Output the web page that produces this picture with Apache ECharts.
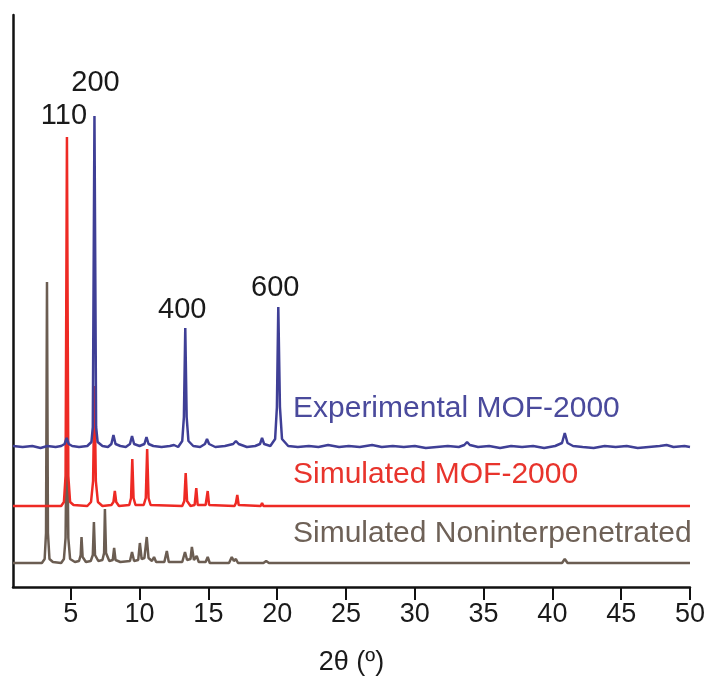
<!DOCTYPE html>
<html>
<head>
<meta charset="utf-8">
<script src="https://cdn.jsdelivr.net/npm/echarts@6/dist/echarts.min.js"></script>
<style>
  html, body { margin: 0; padding: 0; background: #ffffff; }
  #chart { width: 708px; height: 682px; }
</style>
</head>
<body>
<div id="chart"></div>
<script>
// Powder X-ray diffraction patterns, stacked with vertical offsets.
// Each pattern is a list of [2θ (°), intensity above its own baseline].

const xTicks = [5, 10, 15, 20, 25, 30, 35, 40, 45, 50];

const offsetExperimental = 140;
const offsetSimulated = 81;
const offsetNonInterpen = 24;

const experimental = [
  [0.8, 1], [1.5, 0], [2.2, 1], [2.8, -1], [3.3, 1], [3.9, 0], [4.3, 1],
  [4.55, 3], [4.7, 9], [4.85, 3], [5.1, 1], [5.6, 0], [6.2, 1],
  [6.5, 5], [6.6, 20], [6.72, 331], [6.84, 20], [6.95, 5], [7.3, 1], [7.7, 0],
  [7.95, 3], [8.1, 12], [8.25, 3], [8.6, 1], [9.0, 0],
  [9.3, 3], [9.45, 11], [9.6, 3], [10.0, 1],
  [10.35, 3], [10.5, 10], [10.65, 3], [11.0, 1], [11.6, 0], [12.2, 1], [12.5, 2], [12.8, 0],
  [13.1, 6], [13.22, 30], [13.32, 119], [13.42, 30], [13.55, 6], [13.9, 1], [14.4, 0],
  [14.75, 3], [14.9, 8], [15.05, 3], [15.5, 0], [16.2, 1],
  [16.8, 3], [17.0, 6], [17.2, 3], [17.8, 0], [18.4, 1],
  [18.75, 3], [18.9, 9], [19.05, 3], [19.5, 1],
  [19.85, 8], [19.98, 40], [20.08, 140], [20.2, 40], [20.35, 8], [20.8, 1],
  [21.5, 0], [22.3, 1], [23.0, 0], [23.7, 2], [24.5, 0], [25.2, 1], [26.0, 0],
  [26.9, 2], [27.6, 0], [28.4, 1], [29.2, 0], [30.0, 1], [30.8, -1], [31.6, 0],
  [32.4, 1], [33.2, 0], [33.6, 2], [33.8, 5], [34.0, 2], [34.6, 0], [35.4, 1],
  [36.2, -1], [37.0, 1], [37.8, 0], [38.6, 1], [39.4, -1], [40.2, 1],
  [40.7, 4], [40.9, 14], [41.1, 4], [41.5, 1], [42.2, 0], [43.0, -1], [43.8, 1],
  [44.6, 0], [45.4, 1], [46.2, -1], [47.0, 0], [47.8, 1], [48.3, 2], [48.8, 0],
  [49.6, 1], [50, 0]
];

const simulated = [
  [0.8, 0], [4.3, 0], [4.5, 4], [4.62, 30], [4.72, 369], [4.82, 30], [4.95, 4], [5.2, 1],
  [6.2, 0], [6.47, 4], [6.62, 25], [6.72, 120], [6.82, 25], [6.97, 4], [7.3, 0],
  [7.95, 1], [8.1, 4], [8.2, 15], [8.3, 4], [8.5, 0],
  [9.25, 1], [9.38, 8], [9.47, 47], [9.56, 8], [9.7, 1],
  [10.3, 1], [10.45, 8], [10.55, 57], [10.65, 8], [10.8, 1],
  [13.1, 0], [13.25, 5], [13.35, 33], [13.45, 5], [13.7, 0],
  [14.0, 1], [14.12, 18], [14.22, 1], [14.8, 1], [14.95, 15], [15.05, 1],
  [16.9, 0], [17.0, 3], [17.1, 11], [17.2, 1],
  [18.8, 0], [18.9, 3], [19.0, 0], [19.5, 0], [19.6, 2], [19.7, 0],
  [20.0, 0], [20.1, 2], [20.2, 0], [50, 0]
];

const nonInterpenetrated = [
  [0.8, 0], [2.9, 0], [3.1, 4], [3.2, 30], [3.27, 281], [3.34, 30], [3.45, 4], [3.7, 1],
  [4.3, 0], [4.5, 4], [4.62, 25], [4.72, 160], [4.82, 25], [4.95, 4], [5.3, 1],
  [5.6, 2], [5.72, 8], [5.78, 26], [5.86, 6], [6.1, 1],
  [6.45, 2], [6.6, 8], [6.68, 41], [6.76, 8], [7.0, 2],
  [7.3, 3], [7.42, 10], [7.48, 54], [7.56, 10], [7.8, 2],
  [8.05, 3], [8.15, 15], [8.25, 3], [8.6, 1],
  [9.3, 2], [9.45, 11], [9.6, 2], [9.9, 3], [10.02, 20], [10.15, 4],
  [10.35, 5], [10.52, 26], [10.65, 5], [10.9, 2], [11.05, 6], [11.2, 1],
  [11.8, 1], [11.98, 12], [12.12, 1], [13.1, 1], [13.3, 11], [13.45, 3],
  [13.7, 4], [13.8, 16], [13.95, 3], [14.15, 7], [14.3, 1],
  [14.8, 1], [14.95, 6], [15.1, 0], [16.5, 0], [16.7, 6], [16.85, 2], [17.0, 4], [17.15, 0],
  [19.0, 0], [19.2, 2], [19.4, 0], [40.7, 0], [40.9, 4], [41.1, 0], [50, 0]
];

// Miller indices of the labelled reflections
const reflections = [
  { hkl: '110', x: 4.72, h: 369, series: 'sim' },
  { hkl: '200', x: 6.72, h: 331, series: 'exp' },
  { hkl: '400', x: 13.32, h: 119, series: 'exp' },
  { hkl: '600', x: 20.08, h: 140, series: 'exp' }
];

const traceNames = ['Experimental MOF-2000', 'Simulated MOF-2000', 'Simulated Noninterpenetrated'];

const colorExp = '#3f3f96';
const colorSim = '#ee2a24';
const colorNon = '#6b5d52';

const shift = (pts, off) => pts.map(p => [p[0], p[1] + off]);

// label centre relative to the peak top, in pixels
const labelOffsets = { '110': [-3, -21], '200': [1, -33], '400': [-3, -18], '600': [-3, -19] };

const textFont = 'Liberation Sans, Arial, sans-serif';

function marks(series, off) {
  return reflections.filter(r => r.series === series).map(r => ({
    coord: [r.x, r.h + off],
    symbol: 'circle',
    symbolSize: 0,
    label: {
      show: true,
      position: 'inside',
      align: 'center',
      verticalAlign: 'middle',
      formatter: r.hkl,
      offset: labelOffsets[r.hkl],
      color: '#1a1a1a',
      fontSize: 29,
      fontFamily: textFont
    }
  }));
}

const chart = echarts.init(document.getElementById('chart'), null, { renderer: 'canvas' });

chart.setOption({
  animation: false,
  backgroundColor: '#ffffff',
  grid: { left: 13, right: 18, top: 15, bottom: 95, containLabel: false },
  xAxis: {
    type: 'value',
    min: 0.8,
    max: 50,
    splitLine: { show: false },
    axisLine: { show: true, lineStyle: { color: '#111', width: 2.5 } },
    axisTick: { show: true, customValues: xTicks, length: 13, lineStyle: { color: '#111', width: 2 } },
    axisLabel: {
      customValues: xTicks,
      color: '#1a1a1a',
      fontSize: 27,
      margin: 14,
      fontFamily: textFont
    },
    name: '2θ (º)',
    nameLocation: 'middle',
    nameGap: 62,
    nameTextStyle: { color: '#1a1a1a', fontSize: 27, fontFamily: textFont }
  },
  yAxis: {
    type: 'value',
    min: 0,
    max: 572,
    splitLine: { show: false },
    axisLine: { show: true, lineStyle: { color: '#111', width: 2.5 } },
    axisTick: { show: false },
    axisLabel: { show: false }
  },
  series: [
    {
      name: traceNames[2],
      type: 'line',
      data: shift(nonInterpenetrated, offsetNonInterpen),
      showSymbol: false,
      lineStyle: { color: colorNon, width: 2.5 },
      z: 2
    },
    {
      name: traceNames[1],
      type: 'line',
      data: shift(simulated, offsetSimulated),
      showSymbol: false,
      lineStyle: { color: colorSim, width: 2.5 },
      markPoint: { data: marks('sim', offsetSimulated) },
      z: 3
    },
    {
      name: traceNames[0],
      type: 'line',
      data: shift(experimental, offsetExperimental),
      showSymbol: false,
      lineStyle: { color: colorExp, width: 2.5 },
      markPoint: { data: marks('exp', offsetExperimental) },
      z: 4
    }
  ],
  graphic: [
    { type: 'text', left: 293, top: 394, style: { text: traceNames[0], fill: '#4a4a9c', font: '30px ' + textFont } },
    { type: 'text', left: 293, top: 460, style: { text: traceNames[1], fill: '#e8342c', font: '30px ' + textFont } },
    { type: 'text', left: 293, top: 519, style: { text: traceNames[2], fill: '#6e6157', font: '30px ' + textFont } }
  ]
});
</script>
</body>
</html>
